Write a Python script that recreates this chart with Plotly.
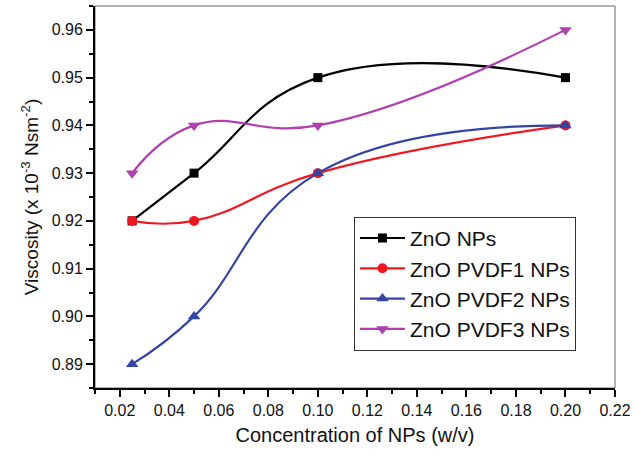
import plotly.graph_objects as go

conc = [0.025, 0.05, 0.10, 0.20]
zno = [0.92, 0.93, 0.95, 0.95]
pvdf1 = [0.92, 0.92, 0.93, 0.94]
pvdf2 = [0.89, 0.90, 0.93, 0.94]
pvdf3 = [0.93, 0.94, 0.94, 0.96]

names = ["ZnO NPs", "ZnO PVDF1 NPs", "ZnO PVDF2 NPs", "ZnO PVDF3 NPs"]
series = [zno, pvdf1, pvdf2, pvdf3]
colors = ["#000000", "#f01820", "#3444a4", "#b040b0"]
symbols = ["square", "circle", "triangle-up", "triangle-down"]
msizes = [9, 10, 11, 11]

FONT = "Liberation Sans, Arial, sans-serif"

fig = go.Figure()
for n, y, c, s, ms in zip(names, series, colors, symbols, msizes):
    fig.add_trace(go.Scatter(
        x=conc, y=y, name=n, mode="lines+markers",
        line=dict(color=c, width=2.2, shape="spline", smoothing=1.3),
        marker=dict(color=c, symbol=s, size=ms),
    ))

fig.update_layout(
    width=640, height=457,
    margin=dict(l=95, r=25, t=6, b=69),
    paper_bgcolor="white", plot_bgcolor="white",
    font=dict(family=FONT, size=16, color="#111111"),
    showlegend=True,
    legend=dict(
        x=0.498, y=0.448, xanchor="left", yanchor="top",
        bordercolor="#333333", borderwidth=1, bgcolor="white",
        font=dict(family=FONT, size=21, color="#111111"),
        itemwidth=45, tracegroupgap=0,
    ),
    shapes=[dict(type="rect", xref="paper", yref="paper", x0=0, y0=0, x1=1, y1=1,
                 line=dict(color="#666666", width=1), layer="below")],
)

fig.update_xaxes(
    range=[0.01, 0.22], tick0=0.02, dtick=0.02, tickformat=".2f",
    showgrid=False, zeroline=False, automargin=False,
    showline=True, linecolor="black", linewidth=2,
    ticks="outside", ticklen=7, tickwidth=1.5, tickcolor="black",
    minor=dict(ticks="outside", ticklen=4, dtick=0.01, tick0=0.01, tickcolor="black", tickwidth=1.5),
    title=dict(text="Concentration of NPs (w/v)", font=dict(size=20), standoff=10),
    tickfont=dict(size=16),
)
fig.update_yaxes(
    range=[0.885, 0.965], tick0=0.89, dtick=0.01, tickformat=".2f",
    showgrid=False, zeroline=False, automargin=False,
    showline=True, linecolor="black", linewidth=2,
    ticks="outside", ticklen=7, tickwidth=1.5, tickcolor="black",
    minor=dict(ticks="outside", ticklen=4, dtick=0.005, tick0=0.885, tickcolor="black", tickwidth=1.5),
    title=dict(text="Viscosity (x 10<sup>-3</sup> Nsm<sup>-2</sup>)", font=dict(size=19), standoff=8),
    tickfont=dict(size=16),
)

fig.write_html("out.html", config={"displayModeBar": False},
               post_script="document.body.style.margin='0';")
